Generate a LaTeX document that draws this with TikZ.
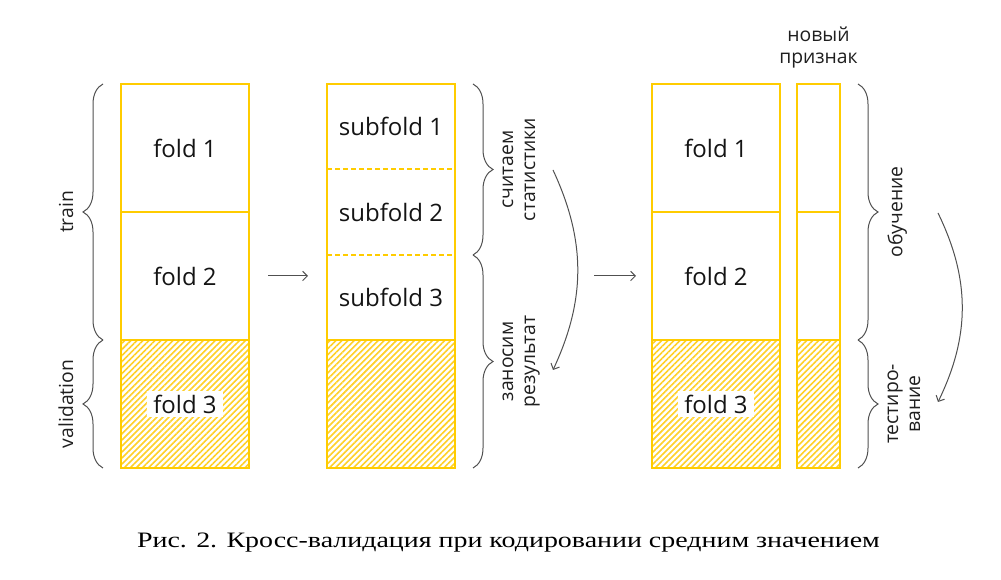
\documentclass[tikz,border=0pt]{standalone}
\usepackage{fontspec}
\setmainfont{Liberation Serif}
\newfontfamily\diagfont{Open Sans}
\newfontfamily\capfont[FakeStretch=1.27]{Liberation Serif}
\usetikzlibrary{positioning}
\usetikzlibrary{calc}
\usetikzlibrary{arrows.meta}
\usetikzlibrary{patterns.meta}
\usetikzlibrary{decorations.pathreplacing}
\definecolor{foldyellow}{RGB}{255,204,0}
\definecolor{hatchyellow}{RGB}{255,208,40}
\definecolor{linegray}{RGB}{80,80,80}

\begin{document}
\begin{tikzpicture}[x=0.75pt, y=-0.75pt,
    cell/.style={rectangle, draw=foldyellow, line width=1.1pt, fill=white, minimum width=96pt, minimum height=96pt, inner sep=0pt, outer sep=0pt, font=\diagfont\fontsize{18}{21}\selectfont, text=black!92},
    subcell/.style={cell, draw=none, fill=none, minimum height=63.75pt},
    narrow/.style={cell, minimum width=32.25pt},
    hatched/.style={pattern={Lines[angle=45, distance=3.2pt, line width=1.2pt]}, pattern color=hatchyellow},
    cutlabel/.style={fill=white, inner xsep=5pt, inner ysep=2.5pt, font=\diagfont\fontsize{18}{21}\selectfont, text=black!92},
    sidelbl/.style={font=\diagfont\fontsize{14.5}{16.5}\selectfont, text=black!88, align=center, inner sep=1pt},
    curly/.style={decorate, decoration={brace, amplitude=15pt}, draw=linegray, line width=0.75pt},
    subline/.style={draw=foldyellow, line width=1.1pt, dash pattern=on 3.75pt off 2.25pt},
    flow/.style={-{Straight Barb[length=3.5pt, width=7pt]}, draw=linegray, line width=0.75pt}]

    \useasboundingbox (0,0) rectangle (1001,580);

    % all folds
    \node[cell] (fold1) at (185,148) {fold 1};
    \node[cell, below=0pt of fold1] (fold2) {fold 2};
    \node[cell, hatched, below=0pt of fold2] (fold3) {};
    \node[cutlabel] (fold3lbl) at (fold3) {fold 3};

    % subfolds
    \node[subcell] (sub1) at (391,126.5) {subfold 1};
    \node[subcell, minimum height=64.5pt, below=0pt of sub1] (sub2) {subfold 2};
    \node[subcell, below=0pt of sub2] (sub3) {subfold 3};
    \draw[draw=foldyellow, line width=1.1pt] (sub1.north west) rectangle (sub3.south east);
    \draw[subline] (sub1.south west) -- (sub1.south east);
    \draw[subline] (sub2.south west) -- (sub2.south east);
    \node[cell, hatched, below=0pt of sub3] (mhatch) {};

    % folds with new feature
    \node[cell] (rfold1) at (716,148) {fold 1};
    \node[cell, below=0pt of rfold1] (rfold2) {fold 2};
    \node[cell, hatched, below=0pt of rfold2] (rfold3) {};
    \node[cutlabel] (rfold3lbl) at (rfold3) {fold 3};
    \node[narrow] (feat1) at (818.5,148) {};
    \node[narrow, below=0pt of feat1] (feat2) {};
    \node[narrow, hatched, below=0pt of feat2] (feat3) {};
    \node[sidelbl, above=11pt of feat1] (featlbl) {новый\\признак};

    % braces
    \draw[curly] ([xshift=-13.5pt]fold2.south west) -- ([xshift=-13.5pt]fold1.north west) coordinate[midway] (trainmid);
    \draw[curly] ([xshift=-13.5pt]fold3.south west) -- ([xshift=-13.5pt]fold3.north west) coordinate[midway] (validmid);
    \node[sidelbl, rotate=90, anchor=south] (trainlbl) at ([xshift=-21pt]trainmid) {train};
    \node[sidelbl, rotate=90, anchor=south] (validlbl) at ([xshift=-21pt]validmid) {validation};

    \draw[curly] ([xshift=13.5pt]sub1.north east) -- ([xshift=13.5pt]sub2.south east) coordinate[midway] (statmid);
    \draw[curly] ([xshift=13.5pt]sub3.north east) -- ([xshift=13.5pt]mhatch.south east) coordinate[midway] (resmid);
    \node[sidelbl, rotate=90, anchor=north] (statlbl) at ([xshift=21pt]statmid) {считаем\\статистики};
    \node[sidelbl, rotate=90, anchor=north] (reslbl) at ([xshift=21pt]resmid) {заносим\\результат};

    \draw[curly] ([xshift=13.5pt]feat1.north east) -- ([xshift=13.5pt]feat2.south east) coordinate[midway] (learnmid);
    \draw[curly] ([xshift=13.5pt]feat3.north east) -- ([xshift=13.5pt]feat3.south east) coordinate[midway] (testmid);
    \node[sidelbl, rotate=90, anchor=north] (learnlbl) at ([xshift=21pt]learnmid) {обучение};
    \node[sidelbl, rotate=90, anchor=north] (testlbl) at ([xshift=21pt]testmid) {тестиро-\\вание};

    % arrows
    \draw[flow] ([xshift=14.25pt]fold2.east) -- ([xshift=-14.25pt]fold2.east -| sub3.west);
    \draw[flow] ([xshift=-43.5pt]rfold2.west) -- ([xshift=-12pt]rfold2.west);

    \coordinate (statstart) at (553,170);
    \coordinate (resend) at (553,370);
    \draw[flow] (statstart) to[bend left=25] (resend);
    \coordinate (learnstart) at (938,213);
    \coordinate (testend) at (938,402);
    \draw[flow] (learnstart) to[bend left=26] (testend);

    \node[font=\capfont\fontsize{16.5}{19}\selectfont] (caption) at (508.5,543) {Рис. 2. Кросс-валидация при кодировании средним значением};
\end{tikzpicture}
\end{document}
